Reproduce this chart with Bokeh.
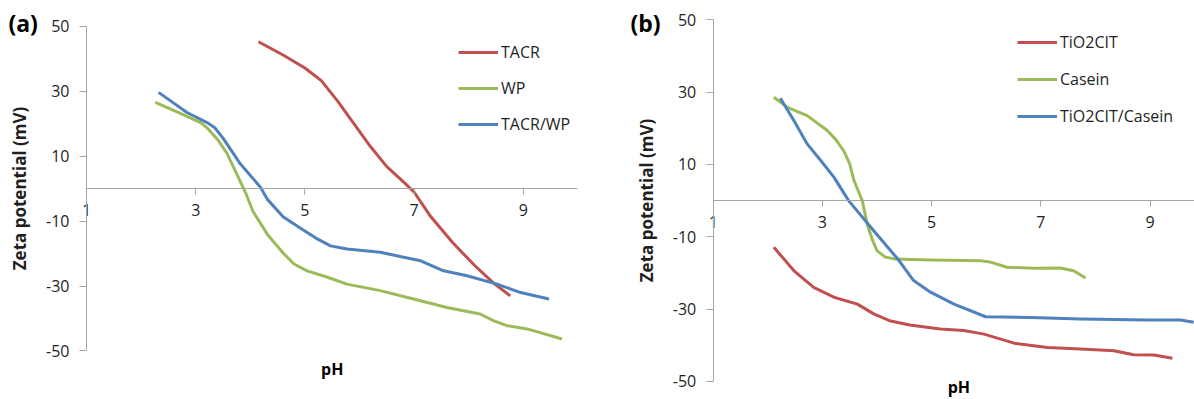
from bokeh.plotting import figure
from bokeh.layouts import row
from bokeh.models import FixedTicker, Label, Legend, LegendItem, Range1d, PrintfTickFormatter
from bokeh.embed import file_html
from bokeh.resources import INLINE

# ---------------- data ----------------
x_ticks = [1, 3, 5, 7, 9]
y_ticks = [-50, -30, -10, 10, 30, 50]

# panel (a)
tacr_ph = [4.15, 4.6, 5.0, 5.3, 5.6, 5.9, 6.2, 6.5, 6.8, 7.0, 7.3, 7.7, 8.1, 8.45, 8.76]
tacr_zp = [45.3, 41.2, 37.2, 33.3, 27.0, 20.0, 13.0, 6.8, 2.2, -1.0, -8.5, -16.5, -23.5, -29.0, -33.0]

wp_ph = [2.26, 2.7, 3.09, 3.22, 3.4, 3.58, 3.91, 4.05, 4.31, 4.6, 4.8, 5.04, 5.4, 5.77, 6.38,
         6.99, 7.6, 8.21, 8.46, 8.7, 9.07, 9.71]
wp_zp = [26.6, 23.4, 20.4, 18.6, 15.2, 10.7, -1.1, -7.0, -14.0, -19.8, -23.2, -25.3, -27.2,
         -29.4, -31.4, -34.0, -36.6, -38.6, -40.7, -42.2, -43.2, -46.3]

tacrwp_ph = [2.32, 2.84, 3.21, 3.35, 3.5, 3.82, 4.19, 4.31, 4.6, 4.92, 5.2, 5.47, 5.77, 6.38,
             7.12, 7.54, 7.97, 8.52, 8.95, 9.47]
tacrwp_zp = [29.7, 23.5, 20.4, 18.8, 15.6, 7.6, 0.4, -3.2, -8.6, -12.2, -15.2, -17.6, -18.6,
             -19.6, -22.2, -25.3, -26.8, -29.4, -32.0, -34.0]

# panel (b)
tio2_ph = [2.11, 2.48, 2.84, 3.21, 3.64, 3.94, 4.25, 4.6, 5.16, 5.59, 5.96, 6.51, 7.12, 7.73,
           8.34, 8.7, 9.07, 9.41]
tio2_zp = [-12.9, -19.4, -24.0, -26.7, -28.6, -31.3, -33.3, -34.4, -35.5, -35.9, -36.9, -39.4,
           -40.6, -41.0, -41.5, -42.6, -42.7, -43.6]

casein_ph = [2.11, 2.36, 2.72, 3.09, 3.25, 3.39, 3.5, 3.58, 3.73, 3.82, 3.92, 4.0, 4.15, 4.31,
             4.98, 5.9, 6.08, 6.38, 6.87, 7.36, 7.6, 7.82]
casein_zp = [28.6, 25.8, 23.5, 19.4, 16.8, 13.8, 10.2, 5.5, 0.0, -6.5, -11.0, -13.8, -15.6,
             -16.1, -16.4, -16.6, -17.0, -18.4, -18.7, -18.6, -19.4, -21.4]

mix_ph = [2.23, 2.48, 2.72, 2.97, 3.21, 3.48, 3.94, 4.4, 4.67, 4.98, 5.41, 5.99, 6.81, 7.73,
          8.95, 9.56, 9.8]
mix_zp = [28.3, 22.1, 15.7, 11.1, 6.5, 0.0, -8.3, -16.5, -22.1, -25.3, -28.6, -32.1, -32.3,
          -32.7, -33.0, -33.0, -33.6]

RED = "#c0504d"
GREEN = "#9bbb59"
BLUE = "#4f81bd"
AXIS = "#a6a6a6"
TXT = "#1f1f1f"
FONT = "Open Sans"


def make_panel(width, xr, yr, x_end):
    # the frame fills the whole canvas; axes are pinned at fixed data positions
    p = figure(width=width, height=399, output_backend="svg", toolbar_location=None,
               x_range=Range1d(*xr), y_range=Range1d(*yr),
               min_border_left=0, min_border_right=0,
               min_border_top=0, min_border_bottom=0)
    p.outline_line_color = None
    p.grid.visible = False
    p.background_fill_color = "white"
    p.border_fill_color = "white"

    xa = p.xaxis[0]
    xa.fixed_location = 0
    xa.bounds = (1, x_end)
    xa.ticker = FixedTicker(ticks=x_ticks)
    xa.formatter = PrintfTickFormatter(format="%d")
    xa.axis_line_color = AXIS
    xa.major_tick_line_color = AXIS
    xa.major_tick_out = 6
    xa.major_tick_in = 0
    xa.minor_tick_line_color = None
    xa.major_label_standoff = 9
    xa.major_label_text_font = FONT
    xa.major_label_text_font_size = "16px"
    xa.major_label_text_color = TXT

    ya = p.yaxis[0]
    ya.fixed_location = 1
    ya.bounds = (-50, 50)
    ya.ticker = FixedTicker(ticks=y_ticks)
    ya.formatter = PrintfTickFormatter(format="%d")
    ya.axis_line_color = AXIS
    ya.major_tick_line_color = AXIS
    ya.major_tick_out = 7
    ya.major_tick_in = 0
    ya.minor_tick_line_color = None
    ya.major_label_standoff = 10
    ya.major_label_text_font = FONT
    ya.major_label_text_font_size = "16px"
    ya.major_label_text_color = TXT
    ya.axis_label = "Zeta potential (mV)"
    ya.axis_label_text_font = FONT
    ya.axis_label_text_font_size = "17px"
    ya.axis_label_text_font_style = "bold"
    ya.axis_label_text_color = TXT
    ya.axis_label_standoff = 12
    return p


def add_texts(p, tag, tag_x, tag_y, ph_y):
    p.add_layout(Label(x=tag_x, y=tag_y, text=tag, text_font=FONT, text_font_size="23px",
                       text_font_style="bold", text_align="left", text_baseline="middle",
                       text_color="black"))
    p.add_layout(Label(x=5.5, y=ph_y, text="pH", text_font=FONT, text_font_size="16px",
                       text_font_style="bold", text_align="center", text_baseline="middle",
                       text_color="black"))


def add_legend(p, items, loc, spacing):
    leg = Legend(items=items, location=loc, padding=0, margin=0, spacing=spacing,
                 glyph_width=40, glyph_height=22, label_height=22, label_standoff=3,
                 label_text_font=FONT, label_text_font_size="16px", label_text_color=TXT,
                 border_line_color=None, background_fill_alpha=0)
    p.add_layout(leg, "center")


# ---------- panel (a) ----------
pa = make_panel(620, (-0.575, 10.78), (-64.95, 58.01), 10)
ra = pa.line(tacr_ph, tacr_zp, line_color=RED, line_width=3, line_join="round")
ga = pa.line(wp_ph, wp_zp, line_color=GREEN, line_width=3, line_join="round")
ba = pa.line(tacrwp_ph, tacrwp_zp, line_color=BLUE, line_width=3, line_join="round")
add_legend(pa, [LegendItem(label="TACR", renderers=[ra]),
                LegendItem(label="WP", renderers=[ga]),
                LegendItem(label="TACR/WP", renderers=[ba])], (458, 264), 14)
add_texts(pa, "(a)", -0.43, 51.2, -55.4)

# ---------- panel (b) ----------
pb = make_panel(574, (-0.698, 9.815), (-54.98, 55.34), 9.815)
rb = pb.line(tio2_ph, tio2_zp, line_color=RED, line_width=3, line_join="round")
gb = pb.line(casein_ph, casein_zp, line_color=GREEN, line_width=3, line_join="round")
bb = pb.line(mix_ph, mix_zp, line_color=BLUE, line_width=3, line_join="round")
add_legend(pb, [LegendItem(label="TiO2CIT", renderers=[rb]),
                LegendItem(label="Casein", renderers=[gb]),
                LegendItem(label="TiO2CIT/Casein", renderers=[bb])], (397, 272), 15)
add_texts(pb, "(b)", -0.515, 49.2, -51.4)

layout = row(pa, pb)
open("out.html", "w").write(file_html(layout, INLINE))
